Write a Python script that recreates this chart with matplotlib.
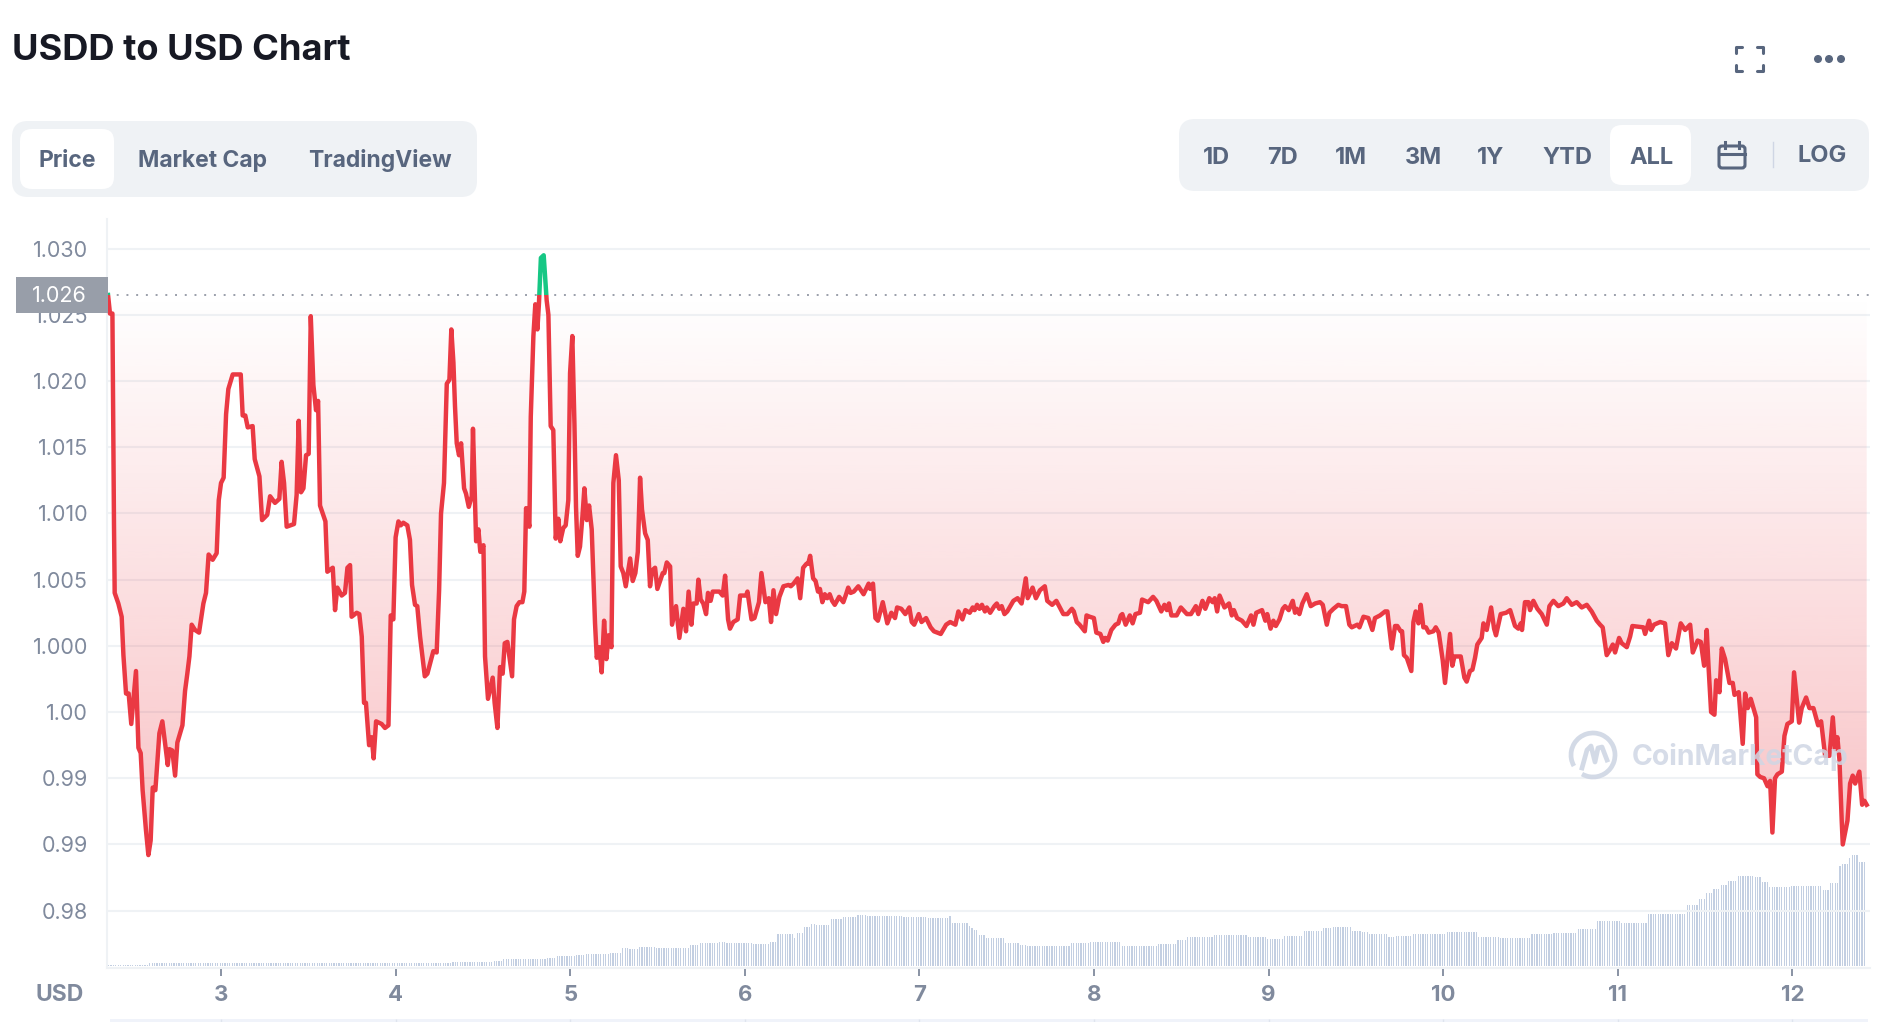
import numpy as np
import matplotlib
matplotlib.use('Agg')
import matplotlib.pyplot as plt
from matplotlib.patches import FancyBboxPatch, Rectangle, PathPatch, Circle, Arc
from matplotlib.path import Path

plt.rcParams['font.family'] = ['Inter', 'DejaVu Sans']

# price (day of month, USD)
price_day = [2.353, 2.364, 2.378, 2.383, 2.387, 2.391, 2.412, 2.431, 2.441, 2.456, 2.471, 2.486, 2.513, 2.527, 2.540, 2.551, 2.570, 2.584, 2.597, 2.609, 2.624, 2.647, 2.664, 2.695, 2.704, 2.721, 2.737, 2.750, 2.779, 2.794, 2.807, 2.819, 2.832, 2.851, 2.874, 2.899, 2.914, 2.929, 2.952, 2.975, 2.987, 3.000, 3.015, 3.029, 3.042, 3.067, 3.113, 3.124, 3.139, 3.153, 3.181, 3.193, 3.220, 3.235, 3.265, 3.281, 3.309, 3.334, 3.347, 3.361, 3.376, 3.418, 3.433, 3.445, 3.458, 3.472, 3.487, 3.502, 3.514, 3.529, 3.544, 3.556, 3.567, 3.598, 3.609, 3.640, 3.653, 3.666, 3.691, 3.710, 3.724, 3.739, 3.748, 3.777, 3.792,
             3.806, 3.819, 3.830, 3.848, 3.863, 3.874, 3.888, 3.920, 3.939, 3.959, 3.972, 3.987, 4.000, 4.016, 4.029, 4.044, 4.067, 4.082, 4.094, 4.111, 4.124, 4.140, 4.167, 4.182, 4.216, 4.235, 4.249, 4.260, 4.277, 4.293, 4.308, 4.319, 4.331, 4.340, 4.350, 4.363, 4.375, 4.392, 4.403, 4.419, 4.436, 4.443, 4.455, 4.461, 4.474, 4.485, 4.503, 4.512, 4.529, 4.556, 4.567, 4.583, 4.598, 4.613, 4.625, 4.640, 4.667, 4.678, 4.693, 4.709, 4.726, 4.737, 4.747, 4.766, 4.774, 4.789, 4.800, 4.812, 4.821, 4.832, 4.848, 4.865, 4.875, 4.888, 4.903, 4.917, 4.932, 4.943, 4.960, 4.974, 4.989, 4.999, 5.012, 5.024, 5.033, 5.043, 5.056, 5.070, 5.081, 5.095, 5.108, 5.123, 5.142, 5.152,
             5.167, 5.180, 5.194, 5.207, 5.220, 5.236, 5.247, 5.262, 5.278, 5.289, 5.304, 5.318, 5.343, 5.358, 5.373, 5.387, 5.400, 5.411, 5.429, 5.444, 5.457, 5.469, 5.486, 5.499, 5.530, 5.539, 5.553, 5.572, 5.583, 5.606, 5.625, 5.648, 5.663, 5.678, 5.694, 5.705, 5.724, 5.734, 5.747, 5.762, 5.778, 5.789, 5.804, 5.816, 5.854, 5.873, 5.887, 5.904, 5.915, 5.934, 5.959, 5.973, 6.007, 6.015, 6.038, 6.055, 6.081, 6.095, 6.118, 6.137, 6.150, 6.164, 6.179, 6.198, 6.221, 6.250, 6.263, 6.279, 6.302, 6.317,
             6.334, 6.353, 6.363, 6.374, 6.391, 6.405, 6.419, 6.430, 6.444, 6.458, 6.472, 6.486, 6.500, 6.515, 6.540, 6.564, 6.580, 6.592, 6.606, 6.624, 6.650, 6.680, 6.709, 6.718, 6.734, 6.748, 6.762, 6.790, 6.816, 6.839, 6.860, 6.872, 6.896, 6.919, 6.942, 6.956, 6.970, 6.996, 7.012, 7.038, 7.064, 7.083, 7.122, 7.153, 7.176, 7.206, 7.223, 7.246, 7.263, 7.288, 7.305, 7.316, 7.330, 7.344, 7.358, 7.375, 7.386, 7.405, 7.429, 7.443, 7.457, 7.471, 7.487, 7.503, 7.538, 7.562, 7.585, 7.609, 7.620, 7.648, 7.667, 7.690, 7.718, 7.732, 7.760, 7.784, 7.824, 7.847, 7.873, 7.884, 7.901, 7.917, 7.947, 7.957, 7.975, 7.999, 8.013, 8.036, 8.053, 8.064, 8.078, 8.099, 8.123, 8.139, 8.153, 8.162, 8.181, 8.205, 8.221, 8.237, 8.263, 8.275, 8.310, 8.338, 8.357, 8.385, 8.403, 8.417, 8.429, 8.443, 8.473, 8.497, 8.532, 8.555, 8.583, 8.597, 8.621, 8.637, 8.660, 8.679, 8.691, 8.705, 8.719, 8.747, 8.773, 8.789, 8.801, 8.819, 8.847, 8.873, 8.899, 8.913, 8.929, 8.962, 8.981, 8.992, 9.011, 9.027, 9.041, 9.062,
             9.081, 9.094, 9.115, 9.138, 9.151, 9.161, 9.176, 9.193, 9.218, 9.241, 9.266, 9.294, 9.310, 9.333, 9.348, 9.371, 9.399, 9.418, 9.443, 9.462, 9.476, 9.508, 9.520, 9.543, 9.571, 9.594, 9.609, 9.638, 9.667, 9.680, 9.705, 9.724, 9.737, 9.756, 9.764, 9.775, 9.791, 9.817, 9.829, 9.842, 9.858, 9.871, 9.886, 9.901, 9.917, 9.943, 9.957, 9.974, 9.997, 10.010, 10.039, 10.052, 10.064, 10.100, 10.121, 10.134, 10.153, 10.167, 10.182, 10.195, 10.220, 10.230, 10.249, 10.274, 10.291, 10.302, 10.329, 10.360, 10.383, 10.411, 10.430, 10.444, 10.451, 10.468, 10.488, 10.497,
             10.516, 10.539, 10.564, 10.593, 10.608, 10.631, 10.659, 10.688, 10.707, 10.736, 10.764, 10.793, 10.822, 10.850, 10.879, 10.898, 10.913, 10.936, 10.955, 10.971, 10.984, 11.007, 11.022, 11.051, 11.070, 11.083, 11.146, 11.156, 11.179, 11.190, 11.207, 11.242, 11.270, 11.289, 11.309, 11.333, 11.360, 11.385, 11.414, 11.429, 11.457, 11.475, 11.494, 11.509, 11.519, 11.534, 11.553, 11.563, 11.582, 11.595, 11.614, 11.639, 11.658, 11.668, 11.692, 11.715, 11.729, 11.744, 11.761, 11.792, 11.799, 11.815, 11.837, 11.857, 11.872, 11.885, 11.900, 11.914, 11.939, 11.954, 11.971, 11.996, 12.009, 12.038, 12.053, 12.078, 12.097, 12.120, 12.147, 12.164, 12.187, 12.212, 12.231, 12.244, 12.257, 12.269, 12.282, 12.288, 12.315, 12.330, 12.345, 12.359, 12.383, 12.399, 12.412, 12.425]

price_val = [1.0265, 1.0251, 1.0251, 1.0159, 1.0092, 1.0040, 1.0032, 1.0022, 0.9993, 0.9964, 0.9964, 0.9941, 0.9981, 0.9923, 0.9919, 0.9891, 0.9861, 0.9842, 0.9853, 0.9893, 0.9891, 0.9934, 0.9943, 0.9910, 0.9922, 0.9921, 0.9902, 0.9927, 0.9940, 0.9966, 0.9979, 0.9992, 1.0016, 1.0012, 1.0010, 1.0032, 1.0040, 1.0069, 1.0065, 1.0070, 1.0110, 1.0123, 1.0127, 1.0175, 1.0194, 1.0205, 1.0205, 1.0174, 1.0174, 1.0165, 1.0166, 1.0141, 1.0128, 1.0095, 1.0099, 1.0113, 1.0108, 1.0111, 1.0139, 1.0123, 1.0090, 1.0092, 1.0114, 1.0170, 1.0116, 1.0119, 1.0144, 1.0145, 1.0249, 1.0197, 1.0178, 1.0185, 1.0106, 1.0094, 1.0056, 1.0059, 1.0027, 1.0044, 1.0038, 1.0040, 1.0059, 1.0061, 1.0022, 1.0025, 1.0024,
             1.0007, 0.9957, 0.9957, 0.9925, 0.9931, 0.9915, 0.9943, 0.9941, 0.9938, 0.9940, 1.0023, 1.0020, 1.0082, 1.0094, 1.0091, 1.0093, 1.0091, 1.0080, 1.0046, 1.0031, 1.0030, 1.0007, 0.9977, 0.9979, 0.9996, 0.9995, 1.0042, 1.0100, 1.0123, 1.0198, 1.0201, 1.0239, 1.0214, 1.0181, 1.0153, 1.0144, 1.0153, 1.0119, 1.0115, 1.0105, 1.0113, 1.0164, 1.0108, 1.0079, 1.0088, 1.0071, 1.0076, 0.9992, 0.9960, 0.9976, 0.9957, 0.9938, 0.9984, 0.9979, 1.0002, 1.0003, 0.9977, 1.0020, 1.0030, 1.0033, 1.0033, 1.0041, 1.0104, 1.0090, 1.0173, 1.0234, 1.0258, 1.0239, 1.0259, 1.0293, 1.0295, 1.0261, 1.0250, 1.0166, 1.0163, 1.0081, 1.0096, 1.0079, 1.0089, 1.0091, 1.0110, 1.0206, 1.0234, 1.0168, 1.0105, 1.0068, 1.0075, 1.0098, 1.0119, 1.0095, 1.0106, 1.0088, 1.0017, 0.9991,
             0.9999, 0.9980, 1.0019, 0.9990, 1.0008, 0.9999, 1.0123, 1.0144, 1.0125, 1.0060, 1.0055, 1.0045, 1.0066, 1.0049, 1.0055, 1.0071, 1.0127, 1.0103, 1.0085, 1.0080, 1.0045, 1.0057, 1.0059, 1.0043, 1.0055, 1.0055, 1.0063, 1.0060, 1.0016, 1.0030, 1.0006, 1.0028, 1.0011, 1.0041, 1.0016, 1.0032, 1.0032, 1.0050, 1.0035, 1.0032, 1.0024, 1.0040, 1.0034, 1.0041, 1.0041, 1.0038, 1.0053, 1.0020, 1.0013, 1.0018, 1.0020, 1.0038, 1.0038, 1.0041, 1.0020, 1.0021, 1.0033, 1.0055, 1.0033, 1.0036, 1.0018, 1.0042, 1.0024, 1.0037, 1.0045, 1.0046, 1.0045, 1.0047, 1.0051, 1.0036,
             1.0059, 1.0062, 1.0062, 1.0068, 1.0051, 1.0049, 1.0041, 1.0043, 1.0033, 1.0039, 1.0036, 1.0039, 1.0034, 1.0031, 1.0037, 1.0033, 1.0039, 1.0044, 1.0040, 1.0041, 1.0045, 1.0039, 1.0047, 1.0043, 1.0047, 1.0021, 1.0019, 1.0033, 1.0017, 1.0025, 1.0021, 1.0029, 1.0028, 1.0024, 1.0029, 1.0018, 1.0016, 1.0024, 1.0018, 1.0021, 1.0014, 1.0011, 1.0009, 1.0016, 1.0018, 1.0016, 1.0026, 1.0020, 1.0027, 1.0025, 1.0029, 1.0027, 1.0031, 1.0028, 1.0031, 1.0026, 1.0029, 1.0025, 1.0030, 1.0032, 1.0028, 1.0030, 1.0024, 1.0026, 1.0034, 1.0036, 1.0032, 1.0051, 1.0036, 1.0044, 1.0036, 1.0042, 1.0045, 1.0034, 1.0031, 1.0034, 1.0024, 1.0024, 1.0028, 1.0026, 1.0018, 1.0016, 1.0011, 1.0023, 1.0022, 1.0021, 1.0010, 1.0009, 1.0003, 1.0006, 1.0004, 1.0012, 1.0016, 1.0017, 1.0023, 1.0024, 1.0016, 1.0023, 1.0017, 1.0024, 1.0025, 1.0035, 1.0033, 1.0037, 1.0034, 1.0026, 1.0031, 1.0027, 1.0032, 1.0023, 1.0023, 1.0029, 1.0024, 1.0024, 1.0030, 1.0024, 1.0034, 1.0028, 1.0036, 1.0033, 1.0036, 1.0026, 1.0038, 1.0029, 1.0032, 1.0023, 1.0027, 1.0021, 1.0019, 1.0015, 1.0023, 1.0016, 1.0025, 1.0027, 1.0019, 1.0024, 1.0013, 1.0019, 1.0015, 1.0020,
             1.0028, 1.0030, 1.0027, 1.0034, 1.0025, 1.0028, 1.0024, 1.0032, 1.0039, 1.0030, 1.0032, 1.0033, 1.0031, 1.0016, 1.0025, 1.0028, 1.0031, 1.0030, 1.0030, 1.0016, 1.0014, 1.0016, 1.0014, 1.0022, 1.0021, 1.0012, 1.0021, 1.0023, 1.0026, 1.0026, 0.9998, 1.0015, 1.0015, 1.0011, 1.0011, 0.9993, 0.9991, 0.9981, 1.0018, 1.0026, 1.0017, 1.0031, 1.0014, 1.0014, 1.0010, 1.0011, 1.0014, 1.0010, 0.9989, 0.9972, 1.0009, 0.9985, 0.9992, 0.9992, 0.9976, 0.9973, 0.9981, 0.9982, 0.9991, 1.0001, 1.0006, 1.0017, 1.0012, 1.0029, 1.0013, 1.0008, 1.0024, 1.0025, 1.0027, 1.0015, 1.0013, 1.0017, 1.0012, 1.0033, 1.0033, 1.0027,
             1.0034, 1.0028, 1.0024, 1.0016, 1.0030, 1.0034, 1.0030, 1.0032, 1.0036, 1.0031, 1.0033, 1.0029, 1.0031, 1.0026, 1.0019, 1.0016, 1.0014, 0.9993, 0.9997, 1.0001, 0.9995, 1.0006, 1.0002, 0.9999, 1.0007, 1.0015, 1.0014, 1.0009, 1.0019, 1.0012, 1.0016, 1.0018, 1.0017, 0.9993, 1.0002, 0.9998, 1.0017, 1.0012, 1.0016, 0.9995, 1.0004, 1.0003, 0.9985, 1.0012, 0.9985, 0.9950, 0.9948, 0.9974, 0.9965, 0.9998, 0.9990, 0.9972, 0.9972, 0.9963, 0.9965, 0.9926, 0.9964, 0.9953, 0.9960, 0.9946, 0.9903, 0.9901, 0.9900, 0.9894, 0.9898, 0.9859, 0.9900, 0.9903, 0.9905, 0.9932, 0.9941, 0.9943, 0.9980, 0.9942, 0.9953, 0.9961, 0.9953, 0.9953, 0.9940, 0.9943, 0.9917, 0.9917, 0.9946, 0.9922, 0.9931, 0.9914, 0.9868, 0.9850, 0.9868, 0.9896, 0.9902, 0.9896, 0.9905, 0.9880, 0.9883, 0.9880]

base_price = 1.0265

# volume in 20 minute bars, as runs of equal height
vol_counts = [17, 125, 17, 4, 18, 4, 8, 4, 10, 5, 3, 4, 7, 14, 4, 8, 3, 11, 7, 3, 7, 1, 3, 3, 2, 6, 5, 6, 4, 15, 10, 9, 1, 7, 1, 1, 2, 3, 8, 6, 3, 18, 8, 13, 15, 8, 4, 4, 7, 14, 8, 7, 8, 8, 4, 8, 4, 3, 8, 3, 7, 14, 13, 9, 13, 9, 10, 8, 10, 11, 16, 5, 3, 3, 3, 3, 4, 7, 3, 3, 9, 13, 3, 4, 1, 3, 1, 3, 3]
vol_levels = [1.5, 3, 4.5, 5.5, 6.7, 8.3, 10, 11, 12, 13, 18, 17, 19, 18, 21, 23, 24, 23, 22, 24, 32, 28, 33, 39, 42, 41, 47, 49, 51, 50, 49, 48, 50, 43, 40, 38, 36, 31, 28, 23, 21, 20, 23, 24, 20, 22, 26, 28.7, 29, 31, 29, 27, 30, 35, 38, 39, 35, 34, 32, 29, 30, 32, 34, 29, 28, 32, 33, 37, 44.7, 43, 52, 61, 67, 73, 77, 81, 85, 90, 89, 84, 79, 80, 76, 83, 100, 102, 108, 111, 104]

y_ticks = [1.030, 1.025, 1.020, 1.015, 1.010, 1.005, 1.000, 0.995, 0.990, 0.985, 0.980]
y_labels = ['1.030', '1.025', '1.020', '1.015', '1.010', '1.005', '1.000', '1.00', '0.99', '0.99', '0.98']
x_ticks = [3, 4, 5, 6, 7, 8, 9, 10, 11, 12]

tabs = ['Price', 'Market Cap', 'TradingView']
ranges = ['1D', '7D', '1M', '3M', '1Y', 'YTD', 'ALL']

RED = '#ea3943'
GREEN = '#16c784'
GRID = '#eff2f5'
GREY = '#808a9d'
SLATE = '#58667e'
W, H = 1890, 1022

fig = plt.figure(figsize=(W / 100, H / 100), dpi=100, facecolor='white')


def axes_px(x0, y0, x1, y1):
    return fig.add_axes([x0 / W, 1 - y1 / H, (x1 - x0) / W, (y1 - y0) / H])


ax = axes_px(107, 219, 1870, 968)
xlim = (2.347, 12.444)
ylim = (0.97567, 1.03224)

# volume underneath, one unit is one pixel high
ax2 = ax.twinx()
ax2.set_ylim(-2, 747)
vol = np.repeat(vol_levels, vol_counts)
vol_x = 2.356 + np.arange(len(vol)) / 72
ax2.bar(vol_x, vol, width=0.5 / 72, color='#c3cfe2', linewidth=0)
ax2.axis('off')
ax.set_zorder(ax2.get_zorder() + 1)
ax.patch.set_visible(False)

ax.set_axisbelow(True)
ax.set_yticks(y_ticks)
ax.set_yticklabels(y_labels)
ax.set_xticks(x_ticks)
ax.grid(axis='y', color=GRID, linewidth=1.5)
for s in ['top', 'right']:
    ax.spines[s].set_visible(False)
for s in ['left', 'bottom']:
    ax.spines[s].set_color(GRID)
    ax.spines[s].set_linewidth(1.5)
ax.tick_params(axis='y', length=0, pad=13.5, labelsize=15.5, labelcolor=GREY)
ax.tick_params(axis='x', length=5.5, width=1.3, color=GREY, pad=7, labelsize=16, labelcolor=GREY)
for t in ax.get_xticklabels():
    t.set_fontweight('bold')

days = np.array(price_day)
vals = np.array(price_val)

# red gradient between the line and the reference price
grad = np.zeros((256, 1, 4))
grad[..., 0] = 0xea / 255
grad[..., 1] = 0x39 / 255
grad[..., 2] = 0x43 / 255
grad[:, 0, 3] = np.linspace(0, (base_price - ylim[0]) * 7.3, 256)[::-1]
img = ax.imshow(grad, origin='lower', aspect='auto', zorder=1.5,
                extent=[days[0], days[-1], ylim[0], base_price])
verts = [(days[0], base_price)] + list(zip(days, np.minimum(vals, base_price))) + [(days[-1], base_price), (days[0], base_price)]
codes = [Path.MOVETO] + [Path.LINETO] * (len(verts) - 2) + [Path.CLOSEPOLY]
clip = PathPatch(Path(verts, codes), transform=ax.transData, facecolor='none', edgecolor='none')
img.set_clip_path(clip)

ax.axhline(base_price, color='#9a9faa', linewidth=1.4, linestyle=(0, (1, 4)), zorder=2)

red_line, = ax.plot(days, vals, color=RED, linewidth=3.2, solid_joinstyle='round', zorder=3)
green_line, = ax.plot(days, vals, color=GREEN, linewidth=3.2, solid_joinstyle='round', zorder=3)
red_line.set_clip_path(Rectangle((2, 0.9), 11, base_price - 0.9, transform=ax.transData))
green_line.set_clip_path(Rectangle((2, base_price), 11, 0.1, transform=ax.transData))

ax.set_xlim(xlim)
ax.set_ylim(ylim)
ax2.set_xlim(xlim)

# thin navigator strip at the very bottom
nav = axes_px(110, 1019, 1868, 1022)
nav.set_facecolor('#f0f3fa')
nav.set_xlim(xlim[0] + 3 / 174.6, xlim[1] - 2 / 174.6)
nav.vlines(x_ticks, 0, 1, color='#dfe4ee', linewidth=1)
nav.set_ylim(0, 1)
nav.set_xticks([])
nav.set_yticks([])
for s in nav.spines.values():
    s.set_visible(False)

# page furniture drawn in pixel coordinates
ov = fig.add_axes([0, 0, 1, 1], zorder=10)
ov.set_xlim(0, W)
ov.set_ylim(H, 0)
ov.axis('off')
ov.patch.set_visible(False)


def rbox(x0, y0, x1, y1, r, color):
    ov.add_patch(FancyBboxPatch((x0 + r, y0 + r), x1 - x0 - 2 * r, y1 - y0 - 2 * r,
                                boxstyle='round,pad=%f,rounding_size=%f' % (r, r),
                                facecolor=color, edgecolor='none', mutation_aspect=1))


ov.text(12, 51, 'USDD to USD Chart', fontsize=26.1, fontweight='bold', color='#171924', va='center', ha='left')

rbox(12, 121, 477, 197, 16, GRID)
rbox(20, 129, 114, 189, 12, 'white')
for name, cx in zip(tabs, [67, 203, 380]):
    ov.text(cx, 161, name, fontsize=16.5, fontweight='bold', color=SLATE, ha='center', va='center')

rbox(1179, 119, 1869, 191, 16, GRID)
rbox(1610, 125, 1691, 185, 12, 'white')
for name, cx in zip(ranges, [1216, 1282, 1351, 1423, 1491, 1567, 1651]):
    ov.text(cx, 158, name, fontsize=17, fontweight='bold', color=SLATE, ha='center', va='center')
ov.text(1822, 156, 'LOG', fontsize=17, fontweight='bold', color=SLATE, ha='center', va='center')
ov.plot([1773, 1773], [142, 167], color='#cfd6e4', lw=1)

# calendar icon
ov.add_patch(FancyBboxPatch((1719, 146), 26, 22, boxstyle='round,pad=0,rounding_size=3',
                            facecolor='none', edgecolor=SLATE, lw=2.2))
ov.plot([1719, 1745], [154, 154], color=SLATE, lw=2.2)
ov.plot([1725, 1725], [142, 148], color=SLATE, lw=2.2)
ov.plot([1739, 1739], [142, 148], color=SLATE, lw=2.2)

# fullscreen icon
for cx, cy, dx, dy in [(1736, 47, 1, 1), (1763, 47, -1, 1), (1736, 71, 1, -1), (1763, 71, -1, -1)]:
    ov.plot([cx + dx * 6, cx, cx], [cy, cy, cy + dy * 6], color=SLATE, lw=2.2, solid_capstyle='round')

# more dots
for cx in [1818, 1829, 1841]:
    ov.add_patch(Circle((cx, 59), 3.3, color=SLATE))

# current price box
ov.add_patch(Rectangle((16, 277), 92, 36, facecolor='#989ea9', edgecolor='none'))
ov.text(87, 296, '1.026', fontsize=15.5, color='white', ha='right', va='center')

ov.text(60, 995, 'USD', fontsize=16.5, fontweight='bold', color=GREY, ha='center', va='center')

# watermark
ov.add_patch(Arc((1593, 755), 44, 44, theta1=150, theta2=120, edgecolor='#cfd6e4', lw=3.4, alpha=0.9))
ov.plot([1582, 1587, 1591, 1595, 1598, 1602, 1607], [768, 750, 746, 762, 748, 747, 760], color='#cfd6e4', lw=3.4, alpha=0.9)
ov.text(1632, 757, 'CoinMarketCap', fontsize=20.4, fontweight='bold', color='#cfd6e4', alpha=0.85, ha='left', va='center')

fig.savefig('out.png', dpi=100)
